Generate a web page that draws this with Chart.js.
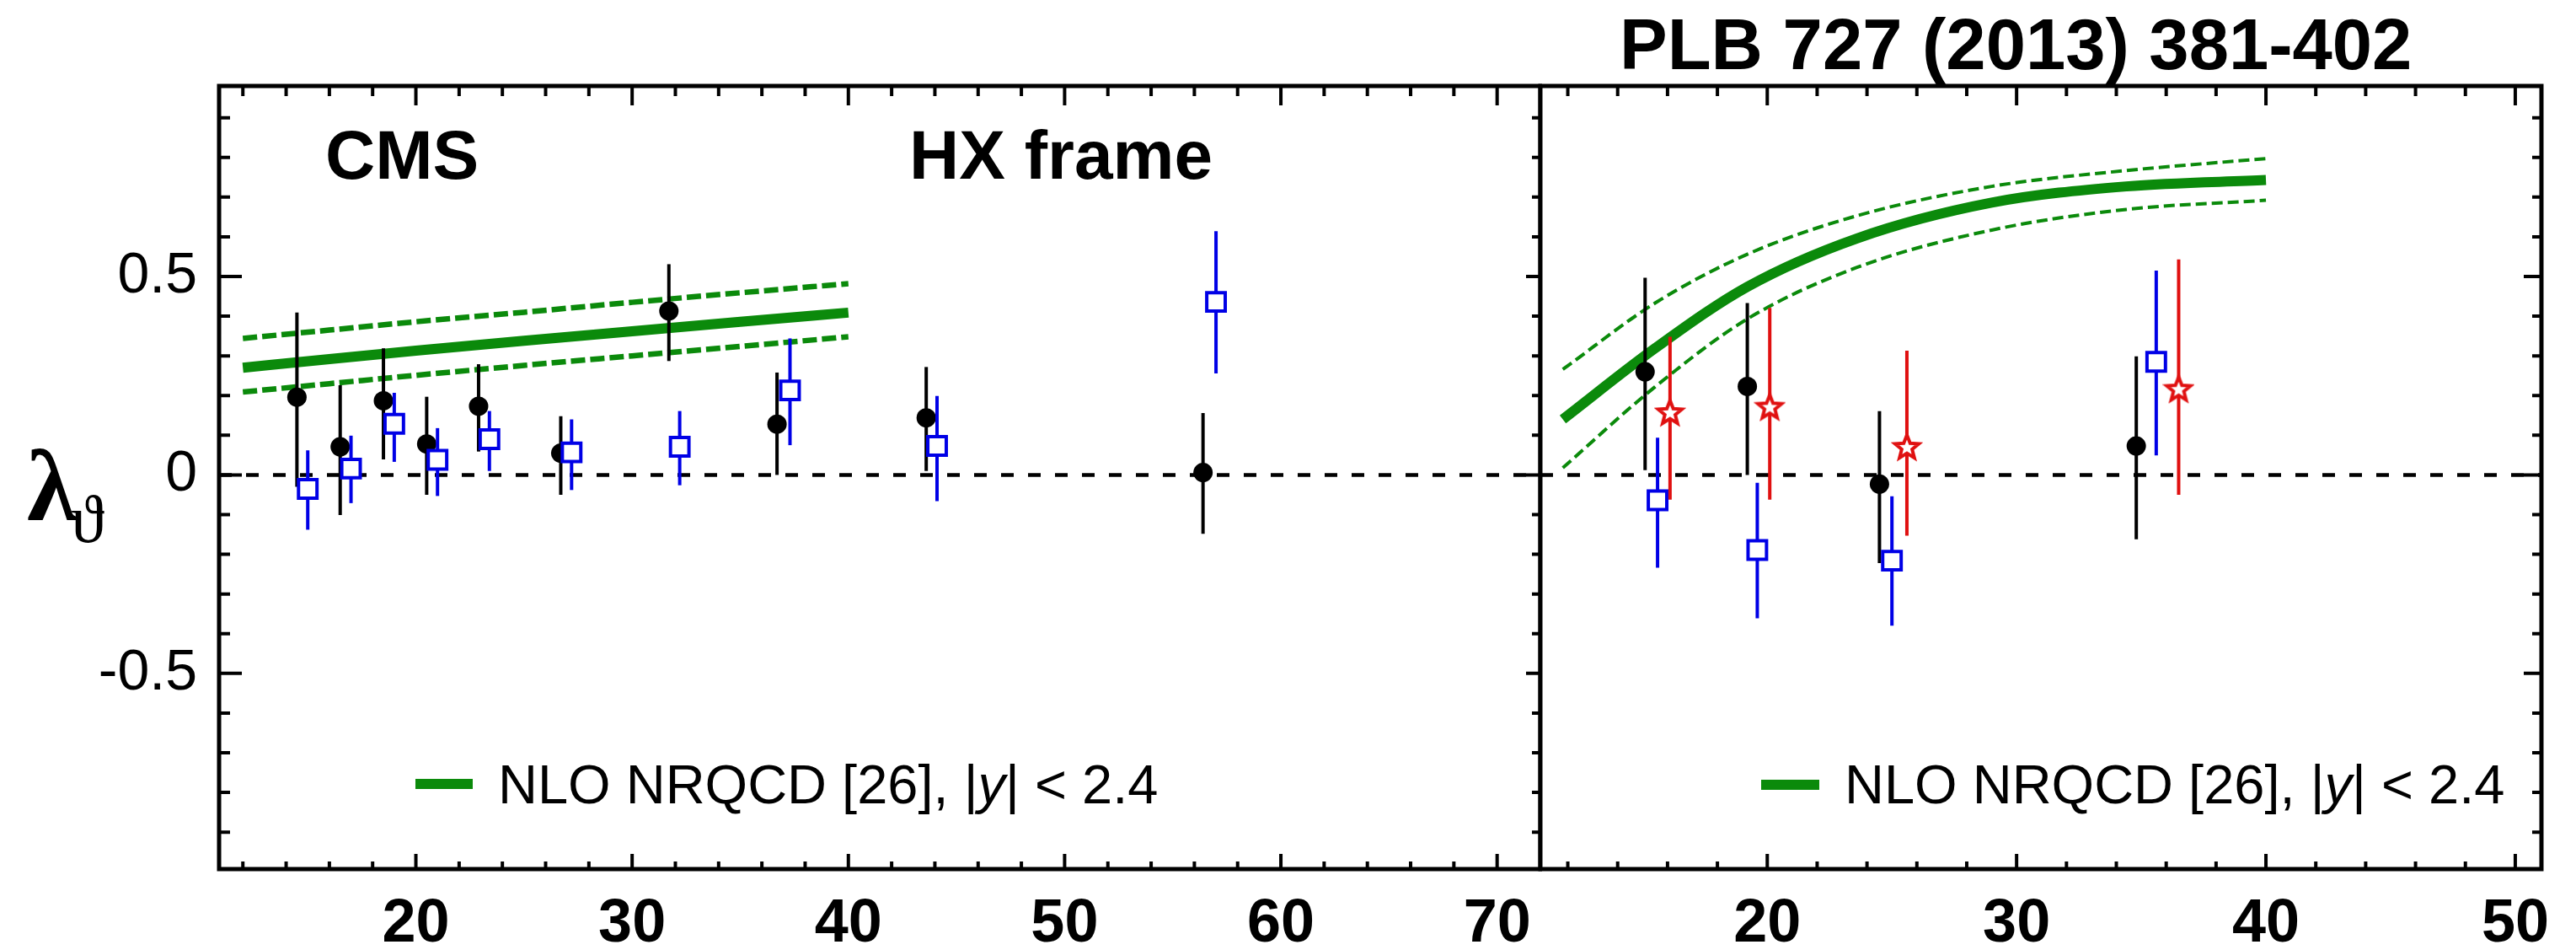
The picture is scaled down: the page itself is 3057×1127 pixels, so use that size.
<!DOCTYPE html>
<html lang="en">
<head>
<meta charset="UTF-8">
<title>CMS lambda_theta, HX frame</title>
<script src="https://cdn.jsdelivr.net/npm/chart.js"></script>
<style>
  body { margin: 0; background: #fff; width: 3057px; height: 1127px; position: relative; overflow: hidden;
         font-family: "Liberation Sans", Arial, sans-serif; }
  canvas { position: absolute; top: 0; }
  #leftChart { left: 0; }
  #rightChart { left: 1800px; }
  .txt { position: absolute; line-height: 1; white-space: nowrap; color: #000; }
  .bold { font-weight: bold; }
  .leg { font-size: 65px; }
  .legLine { position: absolute; height: 12px; background: #0b8a0b; }
  .serif { font-family: "Liberation Serif", "DejaVu Serif", serif; }
</style>
</head>
<body>
<canvas id="leftChart" width="1830" height="1127"></canvas>
<canvas id="rightChart" width="1257" height="1127"></canvas>

<div class="txt bold" style="left:1922px; top:10px; font-size:85px;">PLB 727 (2013) 381-402</div>
<div class="txt bold" style="left:386px; top:143px; font-size:82px;">CMS</div>
<div class="txt bold" style="left:1079px; top:143px; font-size:82px;">HX frame</div>
<div class="txt serif bold" style="left:32px; top:517px; font-size:120px;">&lambda;</div>
<div class="txt serif" style="left:84px; top:576px; font-size:80px;">&#977;</div>

<div class="legLine" style="left:493px; top:924px; width:68px;"></div>
<div class="txt leg" style="left:591px; top:898px;">NLO NRQCD [26], |<i>y</i>| &lt; 2.4</div>
<div class="legLine" style="left:2090px; top:925px; width:69px;"></div>
<div class="txt leg" style="left:2189px; top:898px;">NLO NRQCD [26], |<i>y</i>| &lt; 2.4</div>

<script>
    // axis ticks
    const yLabels = [-0.5, 0, 0.5];
    const yMinor = [-0.9, -0.8, -0.7, -0.6, -0.5, -0.4, -0.3, -0.2, -0.1, 0, 0.1, 0.2, 0.3, 0.4, 0.5, 0.6, 0.7, 0.8, 0.9];
    const xLabelsLeft = [20, 30, 40, 50, 60, 70];
    const xMinorLeft = [12, 14, 16, 18, 20, 22, 24, 26, 28, 30, 32, 34, 36, 38, 40, 42, 44, 46, 48, 50,
                        52, 54, 56, 58, 60, 62, 64, 66, 68, 70];
    const xLabelsRight = [20, 30, 40, 50];
    const xMinorRight = [12, 14, 16, 18, 20, 22, 24, 26, 28, 30, 32, 34, 36, 38, 40, 42, 44, 46, 48, 50];

    // left panel data
    const leftBlackX  = [14.5, 16.5, 18.5, 20.5, 22.9, 26.7, 31.7, 36.7, 43.6, 56.4];
    const leftBlackY  = [0.196, 0.071, 0.187, 0.078, 0.173, 0.055, 0.413, 0.128, 0.144, 0.006];
    const leftBlackLo = [-0.03, -0.101, 0.039, -0.05, 0.059, -0.05, 0.287, 0.0, 0.01, -0.148];
    const leftBlackHi = [0.409, 0.226, 0.319, 0.197, 0.279, 0.148, 0.531, 0.258, 0.272, 0.156];

    const leftBlueX  = [15.0, 17.0, 19.0, 21.0, 23.4, 27.2, 32.2, 37.3, 44.1, 57.0];
    const leftBlueY  = [-0.035, 0.016, 0.129, 0.038, 0.09, 0.057, 0.071, 0.213, 0.073, 0.436];
    const leftBlueLo = [-0.138, -0.071, 0.033, -0.053, 0.01, -0.038, -0.026, 0.075, -0.066, 0.256];
    const leftBlueHi = [0.062, 0.099, 0.207, 0.118, 0.161, 0.14, 0.161, 0.344, 0.199, 0.614];

    const leftTheoryX  = [12, 16, 20, 25, 30, 35, 40];
    const leftTheoryY  = [0.270, 0.292, 0.313, 0.338, 0.362, 0.386, 0.409];
    const leftTheoryHi = [0.344, 0.365, 0.386, 0.410, 0.435, 0.459, 0.482];
    const leftTheoryLo = [0.209, 0.230, 0.251, 0.276, 0.300, 0.324, 0.348];

    // right panel data
    const rightBlackX  = [15.1, 19.2, 24.5, 34.8];
    const rightBlackY  = [0.260, 0.223, -0.023, 0.073];
    const rightBlackLo = [0.012, 0.0, -0.222, -0.162];
    const rightBlackHi = [0.497, 0.433, 0.161, 0.299];

    const rightBlueX  = [15.6, 19.6, 25.0, 35.6];
    const rightBlueY  = [-0.064, -0.189, -0.216, 0.285];
    const rightBlueLo = [-0.234, -0.361, -0.38, 0.049];
    const rightBlueHi = [0.094, -0.02, -0.054, 0.515];

    const rightRedX  = [16.1, 20.1, 25.6, 36.5];
    const rightRedY  = [0.158, 0.172, 0.071, 0.217];
    const rightRedLo = [-0.062, -0.062, -0.153, -0.05];
    const rightRedHi = [0.348, 0.421, 0.313, 0.543];

    const rightTheoryX  = [11.8, 15.5, 19.2, 23.6, 29, 34.4, 40];
    const rightTheoryY  = [0.140, 0.319, 0.474, 0.596, 0.686, 0.727, 0.743];
    const rightTheoryHi = [0.266, 0.433, 0.556, 0.653, 0.727, 0.767, 0.797];
    const rightTheoryLo = [0.018, 0.222, 0.393, 0.523, 0.617, 0.669, 0.692];

    const GREEN = '#0b8a0b', BLUE = '#0000e6', RED = '#e01010';

    const pts = (xs, ys, lo, hi) => xs.map((x, i) => ({ x: x, y: ys[i], lo: lo ? lo[i] : null, hi: hi ? hi[i] : null }));

    function makeStar(color) {
        const c = document.createElement('canvas');
        c.width = 38; c.height = 36;
        const g = c.getContext('2d');
        g.beginPath();
        for (let k = 0; k < 10; k++) {
            const r = k % 2 ? 6.5 : 15;
            const a = -Math.PI / 2 + k * Math.PI / 5;
            g.lineTo(19 + r * Math.cos(a), 19 + r * Math.sin(a));
        }
        g.closePath();
        g.fillStyle = '#fff';
        g.fill();
        g.lineWidth = 4;
        g.strokeStyle = color;
        g.stroke();
        return c;
    }
    const redStar = makeStar(RED);

    // vertical error bars, drawn just before each marker dataset
    const errorBars = {
        id: 'errorBars',
        beforeDatasetDraw(chart, args) {
            const ds = chart.data.datasets[args.index];
            if (!ds.errColor) return;
            const { ctx, scales: { y } } = chart;
            ctx.save();
            ctx.strokeStyle = ds.errColor;
            ctx.lineWidth = 4;
            args.meta.data.forEach((el, j) => {
                const d = ds.data[j];
                ctx.beginPath();
                ctx.moveTo(el.x, y.getPixelForValue(d.hi));
                ctx.lineTo(el.x, y.getPixelForValue(d.lo));
                ctx.stroke();
            });
            ctx.restore();
        }
    };

    // frame with inward ticks on every side
    const near = (arr, v) => arr.some(a => Math.abs(a - v) < 1e-6);
    const framePlugin = {
        id: 'frame',
        afterDatasetsDraw(chart, args, opts) {
            const { ctx, chartArea: a, scales: { x, y } } = chart;
            ctx.save();
            ctx.strokeStyle = '#000';
            ctx.lineWidth = 4;
            ctx.beginPath();
            opts.xMinor.forEach(v => {
                const px = x.getPixelForValue(v);
                const major = near(opts.xMajor, v);
                ctx.moveTo(px, a.top);
                ctx.lineTo(px, a.top + (major ? 23 : 12));
                ctx.moveTo(px, a.bottom);
                ctx.lineTo(px, a.bottom - (major ? 18 : 9));
            });
            yMinor.forEach(v => {
                const py = y.getPixelForValue(v);
                const major = near(yLabels, v);
                if (opts.left === 'in') {
                    ctx.moveTo(a.left, py);
                    ctx.lineTo(a.left + (major ? 27 : 13), py);
                }
                if (opts.right === 'cross') {
                    ctx.moveTo(a.right - (major ? 17 : 10), py);
                    ctx.lineTo(a.right + (major ? 17 : 10), py);
                } else if (opts.right === 'in') {
                    ctx.moveTo(a.right, py);
                    ctx.lineTo(a.right - (major ? 21 : 11), py);
                }
            });
            ctx.stroke();
            ctx.lineWidth = 5;
            ctx.strokeRect(a.left, a.top, a.right - a.left, a.bottom - a.top);
            ctx.restore();
        }
    };

    function markerSets(black, blue, red) {
        const sets = [];
        if (red) sets.push({ data: red, pointStyle: redStar, errColor: RED, pointRadius: 15 });
        sets.push({ data: blue, pointStyle: 'rect', pointRadius: 15.5, pointBorderWidth: 4,
                    pointBorderColor: BLUE, pointBackgroundColor: '#fff', errColor: BLUE });
        sets.push({ data: black, pointStyle: 'circle', pointRadius: 11.5, pointBorderWidth: 0,
                    pointBackgroundColor: '#000', errColor: '#000' });
        return sets;
    }

    function theorySets(central, hi, lo, dashWidth, dash) {
        const line = (data, width, d) => ({
            data: data, showLine: true, pointRadius: 0, borderColor: GREEN, borderWidth: width,
            borderDash: d, borderCapStyle: 'butt', cubicInterpolationMode: 'monotone'
        });
        return [line(central, 12, []), line(hi, dashWidth, dash), line(lo, dashWidth, dash)];
    }

    function zeroLine(x0, x1) {
        return { data: [{ x: x0, y: 0 }, { x: x1, y: 0 }], showLine: true, pointRadius: 0,
                 borderColor: '#000', borderWidth: 4.5, borderDash: [15, 17] };
    }

    function panel(id, o) {
        return new Chart(document.getElementById(id), {
            type: 'scatter',
            data: { datasets: o.datasets },
            options: {
                responsive: false,
                animation: false,
                layout: { padding: o.padding, autoPadding: false },
                plugins: {
                    legend: { display: false },
                    tooltip: { enabled: false },
                    frame: o.frame
                },
                scales: {
                    x: {
                        type: 'linear', min: o.xMin, max: o.xMax,
                        grid: { display: false }, border: { display: false },
                        afterBuildTicks: s => { s.ticks = o.xLabels.map(v => ({ value: v })); },
                        afterFit: s => { s.height = 96; s.paddingLeft = 0; s.paddingRight = 0; },
                        ticks: {
                            autoSkip: false, maxRotation: 0, padding: 15, color: '#000',
                            font: { family: '"Liberation Sans", Arial, sans-serif', size: 72, weight: 'bold' }
                        }
                    },
                    y: {
                        type: 'linear', min: -0.993, max: 0.98, display: o.showY,
                        grid: { display: false }, border: { display: false },
                        afterBuildTicks: s => { s.ticks = yLabels.map(v => ({ value: v })); },
                        afterFit: s => { s.width = o.showY ? 260 : 0; s.paddingTop = 0; s.paddingBottom = 0; },
                        ticks: {
                            padding: 18, color: '#000', callback: v => String(v),
                            font: { family: '"Liberation Sans", Arial, sans-serif', size: 68 }
                        }
                    }
                }
            },
            plugins: [framePlugin, errorBars]
        });
    }

    panel('leftChart', {
        xMin: 10.9, xMax: 72, xLabels: xLabelsLeft, showY: true,
        padding: { top: 102, right: 2, bottom: 0, left: 0 },
        frame: { xMinor: xMinorLeft, xMajor: xLabelsLeft, left: 'in', right: 'cross' },
        datasets: [
            ...markerSets(pts(leftBlackX, leftBlackY, leftBlackLo, leftBlackHi),
                          pts(leftBlueX, leftBlueY, leftBlueLo, leftBlueHi), null),
            ...theorySets(pts(leftTheoryX, leftTheoryY), pts(leftTheoryX, leftTheoryHi),
                          pts(leftTheoryX, leftTheoryLo), 6.5, [17, 6]),
            zeroLine(10.9, 72)
        ]
    });

    panel('rightChart', {
        xMin: 10.9, xMax: 51.05, xLabels: xLabelsRight, showY: false,
        padding: { top: 102, right: 41, bottom: 0, left: 28 },
        frame: { xMinor: xMinorRight, xMajor: xLabelsRight, left: 'none', right: 'in' },
        datasets: [
            ...markerSets(pts(rightBlackX, rightBlackY, rightBlackLo, rightBlackHi),
                          pts(rightBlueX, rightBlueY, rightBlueLo, rightBlueHi),
                          pts(rightRedX, rightRedY, rightRedLo, rightRedHi)),
            ...theorySets(pts(rightTheoryX, rightTheoryY), pts(rightTheoryX, rightTheoryHi),
                          pts(rightTheoryX, rightTheoryLo), 4, [13, 6]),
            zeroLine(10.9, 51.05)
        ]
    });
</script>
</body>
</html>
